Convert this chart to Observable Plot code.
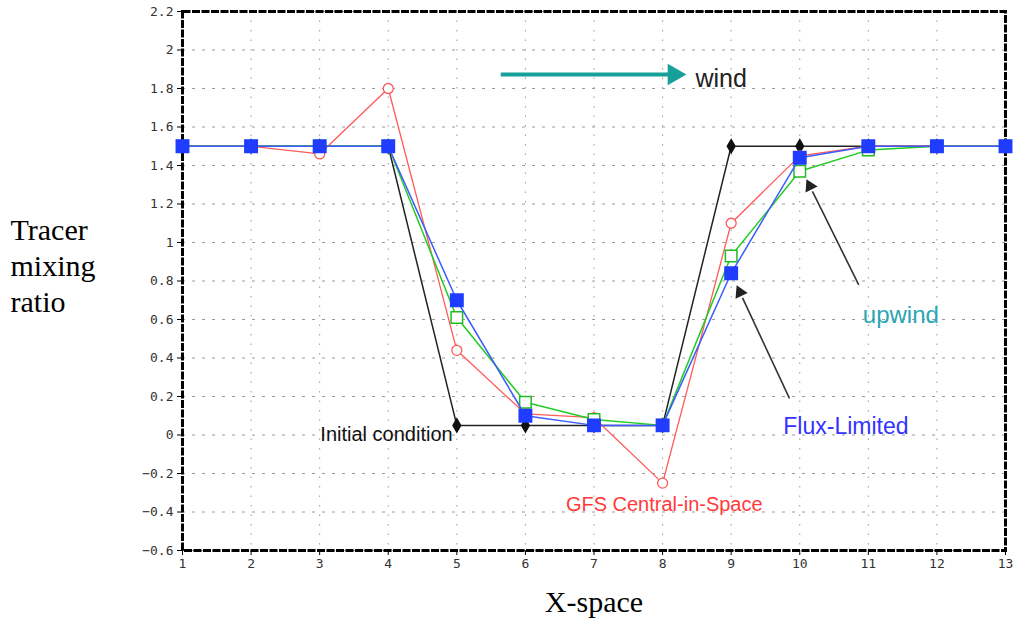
<!DOCTYPE html>
<html>
<head>
<meta charset="utf-8">
<script src="https://cdn.jsdelivr.net/npm/d3@7"></script>
<script src="https://cdn.jsdelivr.net/npm/@observablehq/plot@0.6"></script>
<style>
  html, body { margin: 0; padding: 0; background: #fff; }
  #chart { width: 1016px; height: 621px; }
</style>
</head>
<body>
<div id="chart"></div>
<script>
// ---- data ----
const xs = [1, 2, 3, 4, 5, 6, 7, 8, 9, 10, 11, 12, 13];
const initialCondition = [1.5, 1.5, 1.5, 1.5, 0.05, 0.05, 0.05, 0.05, 1.5, 1.5, 1.5, 1.5, 1.5];
const gfsCentral = [1.5, 1.5, 1.46, 1.8, 0.44, 0.11, 0.09, -0.25, 1.1, 1.45, 1.5, 1.5, 1.5];
const upwind = [1.5, 1.5, 1.5, 1.5, 0.61, 0.17, 0.08, 0.05, 0.93, 1.37, 1.48, 1.5, 1.5];
const fluxLimited = [1.5, 1.5, 1.5, 1.5, 0.70, 0.10, 0.05, 0.05, 0.84, 1.44, 1.5, 1.5, 1.5];

const xTicks = [1, 2, 3, 4, 5, 6, 7, 8, 9, 10, 11, 12, 13];
const yTicks = [-0.6, -0.4, -0.2, 0, 0.2, 0.4, 0.6, 0.8, 1, 1.2, 1.4, 1.6, 1.8, 2, 2.2];

const labels = [
  {x: 8.48, y: 1.85, text: "wind"},
  {x: 10.92, y: 0.62, text: "upwind"},
  {x: 9.76, y: 0.045, text: "Flux-Limited"},
  {x: 6.59, y: -0.36, text: "GFS Central-in-Space"},
  {x: 3.01, y: -0.0, text: "Initial condition"}
];
const windArrow = [{x1: 5.64, y1: 1.873, x2: 8.23, y2: 1.873}];
const pointerArrows = [
  {x1: 10.86, y1: 0.78, x2: 10.11, y2: 1.32},
  {x1: 9.85, y1: 0.19, x2: 9.09, y2: 0.77}
];

const toRows = (vals) => xs.map((x, i) => ({x, y: vals[i]}));
const init = toRows(initialCondition);
const gfs = toRows(gfsCentral);
const up = toRows(upwind);
const flux = toRows(fluxLimited);

const fmt = d => String(Math.round(d * 10) / 10).replace("-", "\u2212");
const lab = t => labels.filter(d => d.text === t);

const layout = {
  width: 1016,
  height: 621,
  marginLeft: 182,
  marginRight: 11,
  marginTop: 11,
  marginBottom: 71,
  style: {background: "#fff", overflow: "visible"},
  x: {domain: [1, 13]},
  y: {domain: [-0.6, 2.2]}
};

// first pass only to read the pixel scales (for arrow-head rotation)
const probe = Plot.plot({...layout, marks: [Plot.frame()]});
const sx = probe.scale("x"), sy = probe.scale("y");
const px = d3.scaleLinear(sx.domain, sx.range);
const py = d3.scaleLinear(sy.domain, sy.range);
const headAngle = d => {
  const dx = px(d.x2) - px(d.x1), dy = py(d.y2) - py(d.y1);
  return Math.atan2(dx, -dy) * 180 / Math.PI;
};
const shaft = (arr, frac) => arr.map(d => ({
  x1: d.x1, y1: d.y1,
  x2: d.x2 - (d.x2 - d.x1) * frac, y2: d.y2 - (d.y2 - d.y1) * frac
}));
const heads = (arr, frac) => arr.map(d => ({
  x: d.x2 - (d.x2 - d.x1) * frac, y: d.y2 - (d.y2 - d.y1) * frac, a: headAngle(d)
}));

const chart = Plot.plot({
  ...layout,
  marks: [
    Plot.gridY(yTicks, {stroke: "#9a9a9a", strokeOpacity: 1, strokeDasharray: "3,7"}),
    Plot.gridX(xTicks, {stroke: "#9a9a9a", strokeOpacity: 1, strokeDasharray: "1.5,8"}),
    Plot.axisY(yTicks, {tickSize: 5, tickPadding: 4, tickFormat: fmt, fontFamily: "DejaVu Sans Mono", fontSize: 13, fill: "#333", stroke: "#000", label: null}),
    Plot.axisX(xTicks, {tickSize: 5, tickPadding: 3, tickFormat: d => String(d), fontFamily: "DejaVu Sans Mono", fontSize: 13, fill: "#333", stroke: "#000", label: null}),
    Plot.frame({stroke: "#000", strokeWidth: 3, strokeDasharray: "8,1.5"}),

    // series
    Plot.line(init, {x: "x", y: "y", stroke: "#222", strokeWidth: 1.5}),
    Plot.dot(init, {x: "x", y: "y", symbol: "diamond", r: 4, fill: "#111", stroke: "#111"}),
    Plot.line(gfs, {x: "x", y: "y", stroke: "#ff5a5a", strokeWidth: 1.3}),
    Plot.dot(gfs, {x: "x", y: "y", symbol: "circle", r: 5, fill: "#fff", stroke: "#ff5a5a", strokeWidth: 1.3}),
    Plot.line(up, {x: "x", y: "y", stroke: "#22cc22", strokeWidth: 1.5}),
    Plot.dot(up, {x: "x", y: "y", symbol: "square", r: 6.5, fill: "#fff", stroke: "#22bb22", strokeWidth: 1.5}),
    Plot.line(flux, {x: "x", y: "y", stroke: "#3c5cff", strokeWidth: 1.5}),
    Plot.dot(flux, {x: "x", y: "y", symbol: "square", r: 7, fill: "#1f3cff", stroke: "#1f3cff"}),

    // annotation arrows (shaft + filled triangular head)
    Plot.link(shaft(windArrow, 0.05), {x1: "x1", y1: "y1", x2: "x2", y2: "y2", stroke: "#17a09a", strokeWidth: 4}),
    Plot.dot(heads(windArrow, 0.025), {x: "x", y: "y", symbol: "triangle", rotate: "a", r: 8, fill: "#17a09a", stroke: "none"}),
    Plot.link(shaft(pointerArrows, 0.1), {x1: "x1", y1: "y1", x2: "x2", y2: "y2", stroke: "#333", strokeWidth: 1.6}),
    Plot.dot(heads(pointerArrows, 0.05), {x: "x", y: "y", symbol: "triangle", rotate: "a", r: 5, fill: "#222", stroke: "none"}),

    // annotation labels
    Plot.text(lab("wind"), {x: "x", y: "y", text: "text", textAnchor: "start", fontFamily: "Liberation Sans", fontSize: 25, fill: "#222"}),
    Plot.text(lab("upwind"), {x: "x", y: "y", text: "text", textAnchor: "start", fontFamily: "Liberation Sans", fontSize: 24, fill: "#2aa6b4"}),
    Plot.text(lab("Flux-Limited"), {x: "x", y: "y", text: "text", textAnchor: "start", fontFamily: "Liberation Sans", fontSize: 23, fill: "#3333ff"}),
    Plot.text(lab("GFS Central-in-Space"), {x: "x", y: "y", text: "text", textAnchor: "start", fontFamily: "Liberation Sans", fontSize: 20, fill: "#ff3a3a"}),
    Plot.text(lab("Initial condition"), {x: "x", y: "y", text: "text", textAnchor: "start", fontFamily: "Liberation Sans", fontSize: 20, fill: "#111"}),

    // axis titles
    Plot.text(["Tracer\nmixing\nratio"], {frameAnchor: "left", dx: -172, dy: -17, textAnchor: "start", lineHeight: 1.2, fontFamily: "Liberation Serif", fontSize: 30, fill: "#000"}),
    Plot.text(["X-space"], {frameAnchor: "bottom", dy: 61, fontFamily: "Liberation Serif", fontSize: 30, fill: "#000"})
  ]
});
document.getElementById("chart").appendChild(chart);
</script>
</body>
</html>
